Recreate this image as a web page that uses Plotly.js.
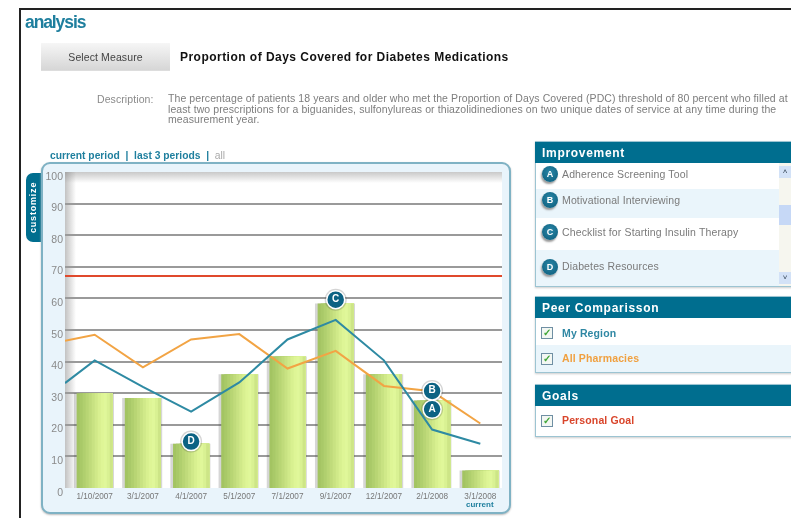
<!DOCTYPE html>
<html>
<head>
<meta charset="utf-8">
<script src="https://cdn.plot.ly/plotly-3.0.1.min.js"></script>
<style>
html,body{margin:0;padding:0;background:#fff;width:791px;height:518px;overflow:hidden;font-family:"Liberation Sans",Arial,sans-serif}
#page{position:absolute;left:0;top:0;width:791px;height:518px;overflow:hidden;filter:blur(.35px)}
.a{position:absolute;white-space:nowrap}
.hd{background:#006e8f;color:#fff;font-weight:bold;font-size:12px;letter-spacing:.7px;box-sizing:border-box;padding-left:7px;line-height:23px !important}
.row{left:536px;width:255px}
.alt{background:#eaf5fb}
.lbl{left:562px;font-size:10.5px;color:#7a7a7a;line-height:14px;letter-spacing:.13px}
.chk{left:541px;width:10px;height:10px;border:1px solid #6f8fa3;background:#f3f7f3;color:#3fa535;font-size:10px;line-height:10px;text-align:center;font-weight:bold}
.badge{left:542px;width:16px;height:16px;border-radius:50%;background:radial-gradient(circle at 50% 40%,#2a87a8,#0a5a78);box-shadow:-1px 2px 2px #999;color:#fff;font-size:9px;font-weight:bold;line-height:16px;text-align:center}
.bx{left:535px;width:260px;box-sizing:border-box;border:1px solid #9cc4d2;box-shadow:0 1px 2px #ccc}
#chart{position:absolute;left:0;top:0;width:791px;height:518px}
</style>
</head>
<body>
<div id="page">
<div class="a" style="left:19px;top:8px;width:772px;height:510px;border-left:2px solid #222;border-top:2px solid #222"></div>
<div class="a" style="left:25px;top:11px;font-size:17.5px;line-height:22px;font-weight:bold;color:#1f7f9e;letter-spacing:-1.1px">analysis</div>
<div class="a" style="left:41px;top:43px;width:129px;height:27px;background:linear-gradient(#f6f6f6,#d6d6d6);border-bottom:1px solid #ddd;text-align:center;font-size:10.5px;line-height:28px;color:#444;letter-spacing:.1px">Select Measure</div>
<div class="a" style="left:180px;top:50px;font-size:12px;line-height:14px;font-weight:bold;color:#111;letter-spacing:.47px">Proportion of Days Covered for Diabetes Medications</div>
<div class="a" style="left:97px;top:93px;font-size:10.5px;line-height:12px;color:#8a8a8a;letter-spacing:.09px">Description:</div>
<div class="a" style="left:168px;top:93px;font-size:10.5px;line-height:10.6px;color:#7d7d7d;letter-spacing:.09px">The percentage of patients 18 years and older who met the Proportion of Days Covered (PDC) threshold of 80 percent who filled at<br>least two prescriptions for a biguanides, sulfonylureas or thiazolidinediones on two unique dates of service at any time during the<br>measurement year.</div>

<div class="a" style="left:50px;top:150px;font-size:10.3px;line-height:12px;font-weight:bold;color:#1f7f9e">current period &nbsp;|&nbsp; last 3 periods &nbsp;|&nbsp; <span style="color:#aaa;font-weight:normal">all</span></div>
<div class="a" style="left:26px;top:173px;width:15px;height:69px;background:#006e8f;border-radius:7px 0 0 7px"></div>
<div class="a" style="left:26px;top:173px;width:15px;height:69px;writing-mode:vertical-rl;transform:rotate(180deg);text-align:center;color:#fff;font-size:9px;line-height:15px;font-weight:bold;letter-spacing:.8px">customize</div>
<div class="a" style="left:41px;top:162px;width:470px;height:352px;box-sizing:border-box;background:#e9f4fb;border:2px solid #7fb2c4;border-radius:9px;box-shadow:0 1px 2px #bbb"></div>
<div class="a" style="left:65px;top:172px;width:437px;height:316px;background:linear-gradient(90deg,rgba(120,120,120,.45),rgba(255,255,255,0) 11px),linear-gradient(180deg,rgba(120,120,120,.4),rgba(255,255,255,0) 11px),#fff"></div>

<div class="a bx" style="top:141px;height:146px"></div>
<div class="a hd" style="left:535px;top:142px;width:260px;height:21px">Improvement</div>
<div class="a row alt" style="top:189px;height:29px"></div>
<div class="a row alt" style="top:250px;height:36px"></div>
<div class="a" style="left:779px;top:163px;width:12px;height:123px;background:#f6f6ef"></div>
<div class="a" style="left:779px;top:166px;width:12px;height:12px;background:#d3e2f7;color:#345;font-size:8px;line-height:12px;text-align:center">&#708;</div>
<div class="a" style="left:779px;top:205px;width:12px;height:20px;background:#c6d8f6;border:0"></div>
<div class="a" style="left:779px;top:272px;width:12px;height:12px;background:#d3e2f7;color:#345;font-size:8px;line-height:12px;text-align:center">&#709;</div>
<div class="a badge" style="top:166px">A</div><div class="a lbl" style="top:167px">Adherence Screening Tool</div>
<div class="a badge" style="top:192px">B</div><div class="a lbl" style="top:193px">Motivational Interviewing</div>
<div class="a badge" style="top:224px">C</div><div class="a lbl" style="top:225px">Checklist for Starting Insulin Therapy</div>
<div class="a badge" style="top:259px">D</div><div class="a lbl" style="top:259px">Diabetes Resources</div>

<div class="a bx" style="top:296px;height:77px"></div>
<div class="a hd" style="left:535px;top:297px;width:260px;height:21px">Peer Comparisson</div>
<div class="a row alt" style="top:345px;height:27px"></div>
<div class="a chk" style="top:327px">&#10003;</div><div class="a lbl" style="top:326px;font-weight:bold;color:#2f87a3">My Region</div>
<div class="a chk" style="top:353px">&#10003;</div><div class="a lbl" style="top:351px;font-weight:bold;color:#f0a040">All Pharmacies</div>

<div class="a bx" style="top:384px;height:53px"></div>
<div class="a hd" style="left:535px;top:385px;width:260px;height:21px">Goals</div>
<div class="a chk" style="top:415px">&#10003;</div><div class="a lbl" style="top:413px;font-weight:bold;color:#d9452b">Personal Goal</div>

<div id="chart"></div>
</div>
<script>
var dateLabels = ['1/10/2007','3/1/2007','4/1/2007','5/1/2007','7/1/2007','9/1/2007','12/1/2007','2/1/2008','3/1/2008'];
var barX = [0,1,2,3,4,5,6,7,8];
var measureValues = [30,28.5,14,36,41.6,58.4,36,27.7,5.5];
var lineX = [-0.616,0,1,2,3,4,5,6,7,8];
var myRegion = [33.2,40.4,32,24.2,33.4,47,53.2,40.4,18.5,14];
var allPharmacies = [46.6,48.5,38.2,47,48.7,37.8,43.4,32.3,30.6,20.4];
var goalX = [-0.616,8.45];
var personalGoal = [67.1,67.1];
var badgeX = [7,7,5,2];
var badgeY = [24.9,30.7,59.6,14.7];
var badgeText = ['A','B','C','D'];
var yTicks = [0,10,20,30,40,50,60,70,80,90,100];
var stripColors = ['#a3c462','#a9c968','#b0cf6e','#b8d574','#c0db7b','#c8e282','#d0e989','#d8f090','#def596','#e0f79a','#d9f193','#cde587'];

var traces = [];
traces.push({type:'bar',x:barX,y:measureValues,width:0.83,offset:-0.43,marker:{color:'rgba(70,70,70,0.22)',line:{width:0}},hoverinfo:'skip',showlegend:false});
var barW = 0.75, n = stripColors.length;
stripColors.forEach(function(c,i){
  traces.push({type:'bar',name:'Measure',x:barX,y:measureValues,width:barW-i*barW/n,offset:-barW/2+i*barW/n,marker:{color:c,line:{width:0}},showlegend:false});
});
traces.push({type:'scatter',mode:'lines',name:'All Pharmacies',x:lineX,y:allPharmacies,line:{color:'#f2a444',width:2},showlegend:false});
traces.push({type:'scatter',mode:'lines',name:'My Region',x:lineX,y:myRegion,line:{color:'#2e8aa3',width:2},showlegend:false});
traces.push({type:'scatter',mode:'lines',name:'Personal Goal',x:goalX,y:personalGoal,line:{color:'#e0492c',width:2},showlegend:false});
traces.push({type:'scatter',mode:'markers',x:badgeX,y:badgeY,marker:{size:22,color:'rgba(60,60,60,0.22)',line:{width:0}},hoverinfo:'skip',showlegend:false});
traces.push({type:'scatter',mode:'markers+text',name:'Improvement',x:badgeX,y:badgeY,text:badgeText,textposition:'middle center',textfont:{family:'Liberation Sans',size:10,color:'#ffffff',weight:'bold'},marker:{size:18,color:'#0c6283',line:{width:1.5,color:'#ffffff'}},showlegend:false});

var layout = {
  width:791,height:518,
  margin:{l:65,r:289,t:172,b:30,pad:0},
  paper_bgcolor:'rgba(0,0,0,0)',plot_bgcolor:'rgba(0,0,0,0)',
  barmode:'overlay',showlegend:false,
  font:{family:'Liberation Sans, Arial, sans-serif'},
  xaxis:{type:'linear',range:[-0.616,8.45],tickmode:'array',tickvals:barX,ticktext:dateLabels,ticklen:0,showgrid:false,zeroline:false,showline:false,tickangle:0,tickfont:{size:8.2,color:'#777777'},ticklabelstandoff:2},
  yaxis:{range:[0,100],tickmode:'array',tickvals:yTicks,ticklen:0,showgrid:true,gridcolor:'#9a9a9a',gridwidth:2,zeroline:false,showline:false,tickfont:{size:10.5,color:'#8a8a8a'},ticklabelshift:4,ticklabelstandoff:1},
  annotations:[{xref:'x',yref:'y',x:8,y:0,yshift:-16,yanchor:'middle',showarrow:false,text:'<b>current</b>',font:{size:8,color:'#1f7f9e'}}]
};
Plotly.newPlot('chart',traces,layout,{displayModeBar:false,staticPlot:true});
</script>
</body>
</html>
